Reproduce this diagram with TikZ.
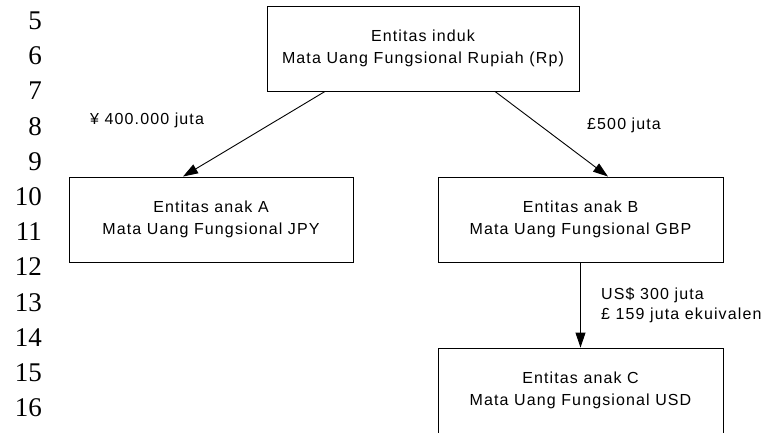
\documentclass[tikz,border=0pt]{standalone}
\usepackage{fontspec}
\setmainfont{Liberation Serif}
\newfontfamily\lblfont[LetterSpace=7]{Liberation Sans}
\usetikzlibrary{arrows.meta}
\begin{document}
\begin{tikzpicture}[x=1bp,y=-1bp,
  box/.style={draw, line width=0.9bp, minimum height=85bp, inner sep=0pt, align=center,
    font=\lblfont\fontsize{16bp}{22bp}\selectfont},
  lbl/.style={inner sep=0pt, anchor=base west, align=left,
    font=\lblfont\fontsize{16bp}{20bp}\selectfont},
  num/.style={inner sep=0pt, anchor=base east, font=\fontsize{27bp}{27bp}\selectfont},
  arr/.style={line width=0.9bp, -{Triangle[length=15bp,width=10bp]}}]
\useasboundingbox (0,0) rectangle (766,432);
\clip (0,0) rectangle (766,432);
% line numbers
\foreach \n [count=\i from 0] in {5,...,17} {
  \node[num] (ln\n) at (42, {29.5+35.2*\i}) {\n};
}
% boxes
\node[box, minimum width=312bp] (top) at (423,48.5) {Entitas induk\\Mata Uang Fungsional Rupiah (Rp)};
\node[box, minimum width=284bp] (A) at (211,219.5) {Entitas anak A\\Mata Uang Fungsional JPY};
\node[box, minimum width=285bp] (B) at (580.5,219.5) {Entitas anak B\\Mata Uang Fungsional GBP};
\node[box, minimum width=285bp] (C) at (580.5,390.5) {Entitas anak C\\Mata Uang Fungsional USD};
% connectors
\draw[arr] ([xshift=-98bp]top.south) -- ([xshift=-28bp]A.north);
\draw[arr] ([xshift=72bp]top.south) -- ([xshift=27.5bp]B.north);
\draw[arr] (B.south) -- (C.north);
% labels
\node[lbl] (lA) at (90,124) {¥ 400.000 juta};
\node[lbl] (lB) at (587,129) {£500 juta};
\node[lbl] (lC) at (601,319) {US\$ 300 juta\\£ 159 juta ekuivalen};
\end{tikzpicture}
\end{document}
